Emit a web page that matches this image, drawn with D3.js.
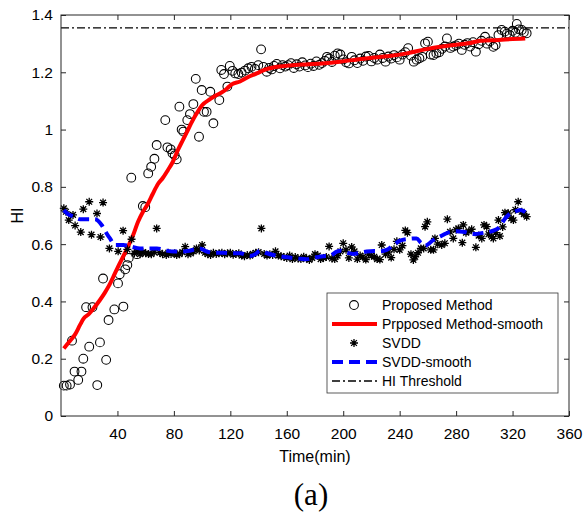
<!DOCTYPE html>
<html>
<head>
<meta charset="utf-8">
<script src="https://cdn.jsdelivr.net/npm/d3@7"></script>
<style>
  html, body { margin: 0; padding: 0; background: #fff; }
  svg { display: block; }
  text { font-family: "Liberation Sans", Arial, Helvetica, sans-serif; }
</style>
</head>
<body>
<div id="chart"></div>
<script>
// ---- data -------------------------------------------------------------
const proposedTime = [2, 4, 6.4, 7.8, 9.6, 12.2, 14.5, 15.8, 17.8, 20, 22.3, 25.7, 27.6, 29.8, 32, 33.7, 37.8, 40.4, 41.6, 44.2, 45.5, 47, 48, 49.8, 53.8, 58, 59.7, 61.8, 63.9, 66.2, 67.8, 73.9, 75.4, 77.7, 79, 80.6, 82, 83.9, 85.5, 86.7, 89.5, 91.4, 93.8, 95.5, 97.8, 99.7, 101.3, 103.2, 105.8, 108, 112.2, 113.6, 115.5, 117.9, 119.6, 121.5, 123.5, 125.7, 128, 130.4, 132.7, 135, 137.4, 139.8, 141.8, 143.4, 145.8, 147.6, 149.3, 151, 152.9, 155.2, 157, 159, 161, 163, 165, 167, 169, 171, 173, 175, 177, 179, 181, 183, 185, 187, 188.5, 190, 192, 194, 196, 198, 200, 202, 204, 206, 208, 210, 212, 214, 216, 218, 220, 222, 224, 226, 228, 230, 232, 234, 236, 238, 240, 242, 244, 246, 248, 250, 252, 254, 256, 258, 260, 262, 264, 266, 268, 270, 272, 273.5, 276, 278, 280, 282, 284, 286, 288, 290, 292, 294, 296, 298, 300.5, 302, 304, 306.4, 308, 310, 312.3, 314.5, 316, 318, 320, 322, 323, 324.5, 326.5, 328, 330];
const proposedHI = [0.106, 0.106, 0.11, 0.263, 0.155, 0.126, 0.155, 0.2, 0.38, 0.242, 0.38, 0.108, 0.257, 0.48, 0.196, 0.335, 0.372, 0.463, 0.495, 0.382, 0.512, 0.527, 0.552, 0.832, 0.565, 0.733, 0.729, 0.847, 0.87, 0.898, 0.946, 1.033, 0.938, 0.931, 0.917, 0.91, 0.896, 1.08, 1.0, 0.993, 1.033, 1.054, 1.089, 1.177, 0.975, 1.138, 1.062, 1.062, 1.132, 1.022, 1.103, 1.208, 1.194, 1.15, 1.222, 1.205, 1.196, 1.194, 1.199, 1.206, 1.214, 1.219, 1.212, 1.225, 1.28, 1.219, 1.202, 1.215, 1.21, 1.222, 1.229, 1.214, 1.225, 1.22, 1.225, 1.232, 1.215, 1.228, 1.22, 1.235, 1.224, 1.218, 1.23, 1.222, 1.238, 1.226, 1.232, 1.24, 1.254, 1.248, 1.236, 1.258, 1.266, 1.262, 1.245, 1.235, 1.231, 1.254, 1.242, 1.232, 1.248, 1.24, 1.255, 1.257, 1.238, 1.25, 1.244, 1.262, 1.25, 1.237, 1.255, 1.248, 1.26, 1.252, 1.244, 1.262, 1.27, 1.284, 1.258, 1.237, 1.244, 1.249, 1.254, 1.301, 1.307, 1.262, 1.26, 1.266, 1.27, 1.282, 1.29, 1.318, 1.285, 1.29, 1.294, 1.3, 1.278, 1.296, 1.302, 1.29, 1.305, 1.272, 1.298, 1.31, 1.324, 1.3, 1.308, 1.289, 1.295, 1.33, 1.348, 1.342, 1.335, 1.33, 1.345, 1.338, 1.369, 1.35, 1.348, 1.34, 1.336];

const proposedSmoothTime = [2, 6, 10, 13.5, 16, 19.5, 23, 27.6, 31, 34, 37, 40.4, 44, 47.5, 51, 54.6, 58, 61.7, 65, 68.7, 72, 75.8, 79, 82.9, 86, 89.1, 92, 96.2, 100, 105.6, 110, 115, 118, 121, 126.9, 132, 138.7, 145, 150.5, 162.3, 175, 185, 197.7, 210, 222, 234, 245, 258, 270, 280, 290, 297, 310, 320, 329];
const proposedSmoothHI = [0.236, 0.26, 0.285, 0.318, 0.34, 0.355, 0.375, 0.405, 0.43, 0.455, 0.485, 0.521, 0.556, 0.591, 0.63, 0.678, 0.712, 0.742, 0.775, 0.81, 0.83, 0.859, 0.885, 0.929, 0.96, 0.99, 1.02, 1.057, 1.085, 1.106, 1.12, 1.133, 1.145, 1.158, 1.168, 1.182, 1.196, 1.21, 1.217, 1.224, 1.228, 1.231, 1.237, 1.245, 1.252, 1.258, 1.266, 1.28, 1.29, 1.296, 1.302, 1.31, 1.313, 1.316, 1.318];

const svddTime = [2, 3.5, 5.5, 8.5, 10, 14, 15.8, 20, 21.6, 25.5, 28, 29.8, 34.3, 40.5, 44, 47, 50, 52, 54, 56, 58, 60, 62, 64, 66, 67.8, 70, 72, 74.6, 76, 78, 80.6, 82, 84, 86, 88, 90, 92, 94, 96, 98, 100, 102, 104, 106, 108, 110, 112, 114, 116, 118, 120, 122, 124, 126, 128, 130, 132, 134, 136, 138, 140, 142, 144, 146, 148, 150, 152, 154, 156, 158, 160, 162, 164, 166, 168, 170, 172, 174, 176, 178, 180, 182, 184, 186, 188, 190, 192, 194, 196, 198, 200, 202, 204, 206, 208, 210, 212, 214, 216, 218, 220, 222, 224, 226, 227.3, 230, 232, 234, 236, 238, 240, 242, 244, 245.5, 248, 249.7, 251, 253, 255, 257, 258, 259.6, 262, 264, 265, 267, 269.8, 272, 273.8, 275.7, 278, 280, 281.6, 284.4, 285.1, 287, 289, 291, 294, 296, 298.2, 299.8, 301.7, 303, 305.2, 306.4, 308, 310, 311, 313, 314.6, 317, 319, 320.6, 322, 324, 326.5, 328, 330];
const svddHI = [0.725, 0.713, 0.684, 0.702, 0.665, 0.642, 0.722, 0.748, 0.633, 0.707, 0.625, 0.745, 0.585, 0.575, 0.647, 0.582, 0.617, 0.568, 0.575, 0.565, 0.572, 0.568, 0.566, 0.565, 0.572, 0.655, 0.57, 0.565, 0.562, 0.57, 0.566, 0.568, 0.562, 0.565, 0.572, 0.591, 0.565, 0.568, 0.575, 0.585, 0.578, 0.597, 0.57, 0.565, 0.562, 0.57, 0.566, 0.568, 0.57, 0.565, 0.568, 0.57, 0.563, 0.566, 0.568, 0.56, 0.558, 0.562, 0.56, 0.566, 0.57, 0.572, 0.655, 0.566, 0.56, 0.565, 0.562, 0.575, 0.56, 0.558, 0.555, 0.552, 0.56, 0.548, 0.555, 0.55, 0.548, 0.556, 0.55, 0.545, 0.552, 0.565, 0.56, 0.548, 0.552, 0.555, 0.592, 0.55, 0.548, 0.56, 0.575, 0.603, 0.58, 0.552, 0.59, 0.575, 0.548, 0.56, 0.555, 0.546, 0.565, 0.56, 0.556, 0.548, 0.546, 0.597, 0.565, 0.572, 0.553, 0.582, 0.61, 0.58, 0.595, 0.648, 0.64, 0.565, 0.545, 0.556, 0.57, 0.585, 0.585, 0.661, 0.678, 0.58, 0.58, 0.62, 0.6, 0.597, 0.603, 0.687, 0.643, 0.62, 0.65, 0.655, 0.605, 0.667, 0.64, 0.645, 0.652, 0.589, 0.63, 0.62, 0.667, 0.661, 0.635, 0.626, 0.62, 0.64, 0.684, 0.628, 0.66, 0.71, 0.708, 0.69, 0.684, 0.72, 0.748, 0.713, 0.705, 0.696];

const svddSmoothTime = [2, 5, 9, 13.5, 18, 24, 28.8, 32, 34.7, 38.3, 44.2, 50, 56, 62, 68, 74, 80, 86, 91, 95, 98.5, 103, 108, 115, 121, 127, 134, 138, 141, 145, 150.5, 156, 162, 168, 174, 178, 181, 186, 190.6, 195.4, 198, 203, 207, 212, 216.6, 222, 226, 230.8, 236, 240.2, 246, 252, 255, 257.9, 263.8, 270, 275.7, 280, 285, 292, 300, 306.4, 311, 314, 317, 321, 325.5, 330];
const svddSmoothHI = [0.719, 0.705, 0.696, 0.687, 0.687, 0.687, 0.667, 0.64, 0.62, 0.597, 0.597, 0.591, 0.585, 0.585, 0.585, 0.578, 0.574, 0.574, 0.577, 0.582, 0.585, 0.575, 0.57, 0.57, 0.568, 0.568, 0.559, 0.566, 0.577, 0.57, 0.562, 0.557, 0.553, 0.55, 0.547, 0.551, 0.554, 0.558, 0.559, 0.574, 0.577, 0.57, 0.566, 0.57, 0.574, 0.576, 0.575, 0.58, 0.598, 0.612, 0.618, 0.62, 0.605, 0.594, 0.614, 0.63, 0.643, 0.645, 0.643, 0.635, 0.64, 0.647, 0.661, 0.685, 0.702, 0.712, 0.719, 0.708];

const hiThreshold = 1.355;

const xTicks = [40, 80, 120, 160, 200, 240, 280, 320, 360];
const yTicks = [0, 0.2, 0.4, 0.6, 0.8, 1, 1.2, 1.4];

const legendLabels = ["Proposed Method", "Prpposed Method-smooth", "SVDD", "SVDD-smooth", "HI Threshold"];

// ---- layout -----------------------------------------------------------
const W = 583, H = 513;
const plot = { left: 61, right: 569, top: 15, bottom: 416 };
const axisColor = "#262626";
const sansFont = "'Liberation Sans', Arial, sans-serif";

const svg = d3.select("#chart").append("svg")
  .attr("width", W).attr("height", H)
  .attr("viewBox", `0 0 ${W} ${H}`);

const x = d3.scaleLinear().domain([0, 360]).range([plot.left, plot.right]);
const y = d3.scaleLinear().domain([0, 1.4]).range([plot.bottom, plot.top]);

const zip = (a, b) => a.map((t, i) => [t, b[i]]);

// star marker ("*"): plus sign overlaid with a cross
function starPath(s) {
  const a = s * 0.72;
  return `M${-s},0L${s},0M0,${-s}L0,${s}M${-a},${-a}L${a},${a}M${-a},${a}L${a},${-a}`;
}

const smoothLine = d3.line().x(d => x(d[0])).y(d => y(d[1])).curve(d3.curveMonotoneX);

const marks = svg.append("g");

// Proposed Method: open circles
marks.append("g").selectAll("circle")
  .data(zip(proposedTime, proposedHI))
  .join("circle")
  .attr("cx", d => x(d[0])).attr("cy", d => y(d[1]))
  .attr("r", 4.4)
  .attr("fill", "none").attr("stroke", "#000").attr("stroke-width", 1.05);

// smoothed proposed HI
marks.append("path")
  .datum(zip(proposedSmoothTime, proposedSmoothHI))
  .attr("d", smoothLine)
  .attr("fill", "none").attr("stroke", "#ff0000").attr("stroke-width", 4)
  .attr("stroke-linejoin", "round");

// SVDD: star markers
marks.append("g").selectAll("path")
  .data(zip(svddTime, svddHI))
  .join("path")
  .attr("transform", d => `translate(${x(d[0])},${y(d[1])})`)
  .attr("d", starPath(4))
  .attr("fill", "none").attr("stroke", "#000").attr("stroke-width", 1.3);

// smoothed SVDD
marks.append("path")
  .datum(zip(svddSmoothTime, svddSmoothHI))
  .attr("d", smoothLine)
  .attr("fill", "none").attr("stroke", "#0000ff").attr("stroke-width", 4)
  .attr("stroke-dasharray", "11,6");

// HI threshold
marks.append("line")
  .attr("x1", x(0)).attr("x2", x(360))
  .attr("y1", y(hiThreshold)).attr("y2", y(hiThreshold))
  .attr("stroke", "#000").attr("stroke-width", 1.3)
  .attr("stroke-dasharray", "8,3,2,3");

// ---- axes -------------------------------------------------------------
function styleAxis(g, showLabels) {
  g.select(".domain").remove();
  g.selectAll(".tick line").attr("stroke", axisColor);
  g.selectAll(".tick text")
    .attr("fill", "#000")
    .style("font-size", "15.5px")
    .style("font-family", sansFont);
  if (!showLabels) g.selectAll(".tick text").remove();
}

svg.append("g").attr("transform", `translate(0,${plot.bottom})`)
  .call(d3.axisBottom(x).tickValues(xTicks).tickSizeInner(-5).tickSizeOuter(0).tickPadding(12))
  .call(g => styleAxis(g, true));
svg.append("g").attr("transform", `translate(0,${plot.top})`)
  .call(d3.axisTop(x).tickValues(xTicks).tickSizeInner(-5).tickSizeOuter(0))
  .call(g => styleAxis(g, false));
svg.append("g").attr("transform", `translate(${plot.left},0)`)
  .call(d3.axisLeft(y).tickValues(yTicks).tickFormat(d3.format("~g")).tickSizeInner(-5).tickSizeOuter(0).tickPadding(8))
  .call(g => styleAxis(g, true));
svg.append("g").attr("transform", `translate(${plot.right},0)`)
  .call(d3.axisRight(y).tickValues(yTicks).tickSizeInner(-5).tickSizeOuter(0))
  .call(g => styleAxis(g, false));

// box
svg.append("rect")
  .attr("x", plot.left).attr("y", plot.top)
  .attr("width", plot.right - plot.left).attr("height", plot.bottom - plot.top)
  .attr("fill", "none").attr("stroke", axisColor).attr("stroke-width", 1);

// axis titles
svg.append("text")
  .attr("x", (plot.left + plot.right) / 2).attr("y", 462)
  .attr("text-anchor", "middle").style("font-size", "16px").style("font-family", sansFont)
  .text("Time(min)");
svg.append("text")
  .attr("transform", `translate(23,${(plot.top + plot.bottom) / 2}) rotate(-90)`)
  .attr("text-anchor", "middle").style("font-size", "16px").style("font-family", sansFont)
  .text("HI");

svg.append("text")
  .attr("x", 311).attr("y", 505)
  .attr("text-anchor", "middle")
  .style("font-family", "'Liberation Serif', 'Times New Roman', serif")
  .style("font-size", "31px")
  .text("(a)");

// ---- legend -----------------------------------------------------------
const leg = svg.append("g");
leg.append("rect")
  .attr("x", 327).attr("y", 293).attr("width", 231).attr("height", 100)
  .attr("fill", "#fff").attr("stroke", "#333").attr("stroke-width", 0.8);

const rowY = d3.scalePoint().domain(legendLabels).range([305, 381]);
const symX0 = 332, symX1 = 377, symXc = 354;

leg.selectAll("text.lab")
  .data(legendLabels)
  .join("text")
  .attr("class", "lab")
  .attr("x", 382).attr("y", d => rowY(d))
  .attr("dy", "0.35em")
  .style("font-size", "14px").style("font-family", sansFont)
  .text(d => d);

leg.append("circle")
  .attr("cx", symXc).attr("cy", rowY(legendLabels[0])).attr("r", 4.4)
  .attr("fill", "none").attr("stroke", "#000").attr("stroke-width", 1.05);
leg.append("line")
  .attr("x1", symX0).attr("x2", symX1)
  .attr("y1", rowY(legendLabels[1])).attr("y2", rowY(legendLabels[1]))
  .attr("stroke", "#ff0000").attr("stroke-width", 4);
leg.append("path")
  .attr("transform", `translate(${symXc},${rowY(legendLabels[2])})`)
  .attr("d", starPath(4))
  .attr("stroke", "#000").attr("stroke-width", 1.3);
leg.append("line")
  .attr("x1", symX0).attr("x2", symX1)
  .attr("y1", rowY(legendLabels[3])).attr("y2", rowY(legendLabels[3]))
  .attr("stroke", "#0000ff").attr("stroke-width", 4)
  .attr("stroke-dasharray", "11,6");
leg.append("line")
  .attr("x1", symX0).attr("x2", symX1)
  .attr("y1", rowY(legendLabels[4])).attr("y2", rowY(legendLabels[4]))
  .attr("stroke", "#000").attr("stroke-width", 1.3)
  .attr("stroke-dasharray", "8,3,2,3");
</script>
</body>
</html>
